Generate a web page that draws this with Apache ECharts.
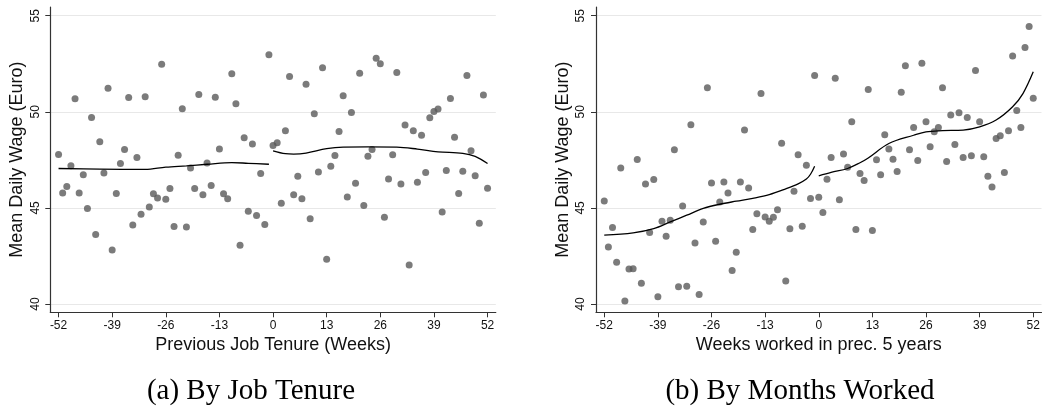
<!DOCTYPE html>
<html>
<head>
<meta charset="utf-8">
<title>Mean Daily Wage</title>
<script src="https://cdn.jsdelivr.net/npm/echarts@6/dist/echarts.min.js"></script>
<style>
  html, body { margin: 0; padding: 0; background: #fff; }
  #chart { width: 1043px; height: 412px; }
</style>
</head>
<body>
<div id="chart"></div>
<script>
// Weeks relative to the threshold
const weeks = [
  -52, -51, -50, -49, -48, -47, -46, -45, -44, -43, -42, -41, -40, -39, -38, -37, -36, -35,
  -34, -33, -32, -31, -30, -29, -28, -27, -26, -25, -24, -23, -22, -21, -20, -19, -18, -17,
  -16, -15, -14, -13, -12, -11, -10, -9, -8, -7, -6, -5, -4, -3, -2, -1,
  0, 1, 2, 3, 4, 5, 6, 7, 8, 9, 10, 11, 12, 13, 14, 15, 16, 17, 18, 19, 20, 21, 22, 23, 24, 25,
  26, 27, 28, 29, 30, 31, 32, 33, 34, 35, 36, 37, 38, 39, 40, 41, 42, 43, 44, 45, 46, 47, 48,
  49, 50, 51, 52
];

// (a) Mean daily wage by previous job tenure
const tenureWage = [
  47.78, 45.78, 46.11, 47.19, 50.68, 45.78, 46.72, 44.97, 49.70, 43.61, 48.44, 46.81, 51.23, 42.81,
  45.75, 47.31, 48.04, 50.75, 44.11, 47.62, 44.67, 50.78, 45.05, 45.73, 45.52, 52.47, 45.45, 46.01,
  44.03, 47.74, 50.16, 44.00, 47.07, 46.01, 50.90, 45.68, 47.33, 46.16, 50.76, 48.06, 45.73, 45.47,
  51.98, 50.42, 43.06, 48.65, 44.83, 48.32, 44.60, 46.79, 44.13, 52.97,
  48.25, 48.39, 45.24, 49.01, 51.84, 45.69, 46.65, 45.47, 51.44, 44.44, 49.90, 46.87, 52.29, 42.33,
  47.17, 47.73, 48.98, 50.83, 45.57, 49.97, 46.28, 52.00, 45.12, 47.69, 48.04, 52.78, 52.50, 44.51,
  46.51, 47.76, 52.05, 46.25, 49.31, 42.03, 49.01, 46.34, 48.78, 46.84, 49.69, 50.02, 50.14, 44.79,
  46.94, 50.69, 48.68, 45.75, 46.91, 51.89, 47.97, 46.67, 44.20, 50.87, 46.02
];

// (b) Mean daily wage by weeks worked in the preceding 5 years
const workedWage = [
  45.36, 42.97, 43.98, 42.17, 47.08, 40.16, 41.82, 41.84, 47.52, 41.08, 46.25, 43.72, 46.48, 40.38,
  44.31, 43.52, 44.36, 48.02, 40.90, 45.10, 40.92, 49.32, 43.18, 40.49, 44.27, 51.25, 46.30, 43.26,
  45.31, 46.35, 45.78, 41.74, 42.69, 46.35, 49.05, 46.04, 43.87, 44.70, 50.95, 44.53, 44.31, 44.51,
  44.91, 48.37, 41.20, 43.92, 45.87, 47.76, 44.05, 47.22, 45.49, 51.89,
  45.56, 44.76, 46.49, 47.62, 51.75, 45.42, 47.80, 47.12, 49.48, 43.87, 46.79, 46.42, 51.16, 43.82,
  47.50, 46.72, 48.80, 48.07, 47.53, 46.89, 51.02, 52.40, 48.02, 49.18, 47.47, 52.52, 49.48, 48.18,
  48.96, 49.18, 51.25, 47.41, 49.84, 48.30, 49.95, 47.62, 49.70, 47.71, 52.15, 49.48, 47.66, 46.65,
  46.09, 48.61, 48.75, 46.84, 49.01, 52.90, 50.07, 49.18, 53.35, 54.44, 50.71
];

// Smoothed fits, estimated separately on each side of zero: [week, wage]
const tenureFitLeft = [
  [-52, 47.05], [-42, 47.02], [-31, 47.00], [-26, 47.12], [-21, 47.19],
  [-16, 47.27], [-10, 47.36], [-6, 47.32], [-1, 47.27]
];
const tenureFitRight = [
  [0, 47.97], [3, 47.82], [5, 47.80], [8, 47.85], [13, 48.08], [17, 48.16], [23, 48.17],
  [30, 48.16], [35, 48.06], [40, 47.92], [46, 47.84], [49, 47.68], [52, 47.31]
];
const workedFitLeft = [
  [-52, 43.58], [-45, 43.70], [-40, 43.92], [-36, 44.27], [-32, 44.62], [-28, 44.97],
  [-24, 45.19], [-20, 45.35], [-16, 45.50], [-12, 45.69], [-8, 45.99], [-5, 46.25],
  [-3, 46.50], [-2, 46.75], [-1, 47.17]
];
const workedFitRight = [
  [0, 46.67], [3, 46.85], [7, 47.05], [10, 47.35], [12, 47.60], [17, 48.35], [23, 48.78],
  [26, 48.96], [30, 49.02], [35, 49.05], [39, 49.22], [43, 49.57], [47, 50.26],
  [49.5, 50.95], [52, 52.08]
];

const xTicks = [-52, -39, -26, -13, 0, 13, 26, 39, 52];
const yTicks = [40, 45, 50, 55];

const xTitles = ['Previous Job Tenure (Weeks)', 'Weeks worked in prec. 5 years'];
const yTitle = 'Mean Daily Wage (Euro)';
const captions = ['(a) By Job Tenure', '(b) By Months Worked'];

const sansFont = '"Liberation Sans", Arial, sans-serif';
const serifFont = '"Liberation Serif", "Times New Roman", serif';
const axisColor = '#333';

function pairs(xs, ys) {
  return xs.map((x, i) => [x, ys[i]]);
}

function xAxisFor(idx) {
  return {
    gridIndex: idx,
    type: 'value',
    min: -54,
    max: 54,
    name: xTitles[idx],
    nameLocation: 'middle',
    nameGap: 18,
    nameTextStyle: { fontFamily: sansFont, fontSize: 18, color: '#111' },
    axisLine: { show: true, onZero: false, lineStyle: { color: axisColor, width: 1.2 } },
    axisTick: { show: true, length: 5, customValues: xTicks, lineStyle: { color: axisColor, width: 1 } },
    axisLabel: { customValues: xTicks, fontFamily: sansFont, fontSize: 12, color: '#111', margin: 7 },
    splitLine: { show: false }
  };
}

function yAxisFor(idx) {
  return {
    gridIndex: idx,
    type: 'value',
    min: 39.568,
    max: 55.453,
    name: yTitle,
    nameLocation: 'middle',
    nameGap: 24,
    nameTextStyle: { fontFamily: sansFont, fontSize: 18, color: '#111' },
    axisLine: { show: true, onZero: false, lineStyle: { color: axisColor, width: 1.2 } },
    axisTick: { show: true, length: 5, customValues: yTicks, lineStyle: { color: axisColor, width: 1 } },
    axisLabel: { customValues: yTicks, rotate: 90, fontFamily: sansFont, fontSize: 12, color: '#111', margin: 9 },
    splitLine: { show: true, lineStyle: { color: '#e8e8e8', width: 1 } }
  };
}

function dots(idx, values) {
  return {
    type: 'scatter',
    xAxisIndex: idx,
    yAxisIndex: idx,
    data: pairs(weeks, values),
    symbol: 'circle',
    symbolSize: 7,
    itemStyle: { color: '#5a5a5a' },
    silent: true,
    z: 2
  };
}

function fit(idx, points) {
  return {
    type: 'line',
    xAxisIndex: idx,
    yAxisIndex: idx,
    data: points,
    smooth: 0.35,
    showSymbol: false,
    lineStyle: { color: '#000', width: 1.3 },
    silent: true,
    z: 3
  };
}

const chart = echarts.init(document.getElementById('chart'), null, { renderer: 'canvas' });

chart.setOption({
  animation: false,
  backgroundColor: '#fff',
  grid: [
    { left: 50.3, top: 7, width: 445.5, height: 305.3 },
    { left: 596, top: 7, width: 445.5, height: 305.3 }
  ],
  xAxis: [xAxisFor(0), xAxisFor(1)],
  yAxis: [yAxisFor(0), yAxisFor(1)],
  series: [
    dots(0, tenureWage),
    fit(0, tenureFitLeft),
    fit(0, tenureFitRight),
    dots(1, workedWage),
    fit(1, workedFitLeft),
    fit(1, workedFitRight)
  ],
  graphic: [
    {
      type: 'text', x: 251, y: 391,
      style: { text: captions[0], font: '29px ' + serifFont, fill: '#000', textAlign: 'center', textVerticalAlign: 'middle' }
    },
    {
      type: 'text', x: 800, y: 391,
      style: { text: captions[1], font: '29px ' + serifFont, fill: '#000', textAlign: 'center', textVerticalAlign: 'middle' }
    }
  ]
});
</script>
</body>
</html>
